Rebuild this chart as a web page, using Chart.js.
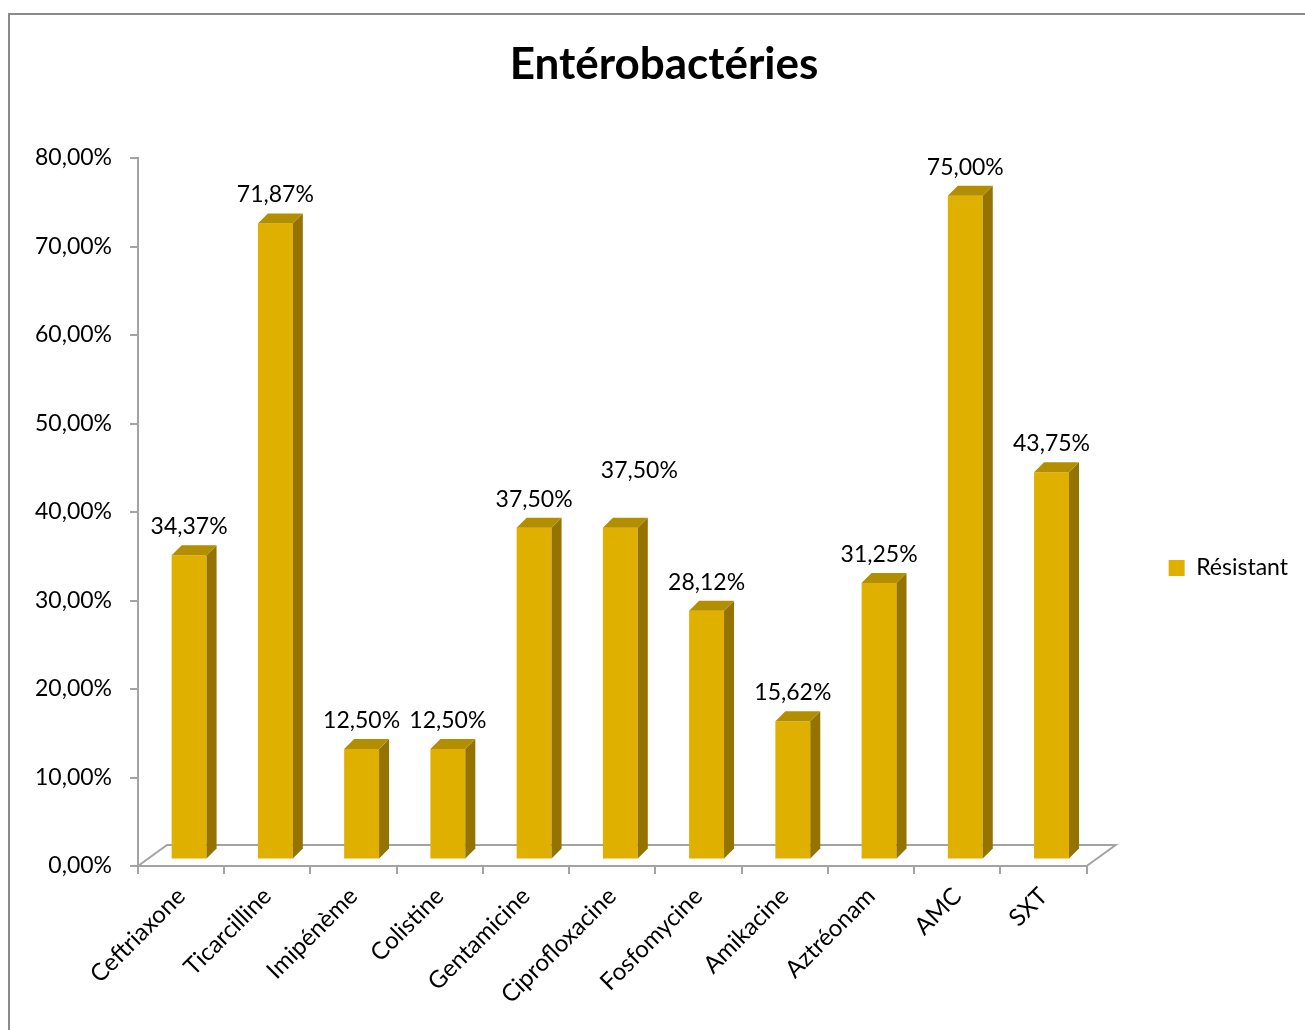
<!DOCTYPE html>
<html>
<head>
<meta charset="utf-8">
<script src="https://cdn.jsdelivr.net/npm/chart.js@4.4.1/dist/chart.umd.min.js"></script>
<style>
  html, body { margin: 0; padding: 0; background: #fff; }
  #wrap { width: 1305px; height: 1030px; }
</style>
</head>
<body>
<div id="wrap"><canvas id="chart" width="1305" height="1030"></canvas></div>
<script>
// donnees
const categories = ["Ceftriaxone", "Ticarcilline", "Imipénème", "Colistine", "Gentamicine",
  "Ciprofloxacine", "Fosfomycine", "Amikacine", "Aztréonam", "AMC", "SXT"];
const resistant = [34.37, 71.87, 12.50, 12.50, 37.50, 37.50, 28.12, 15.62, 31.25, 75.00, 43.75];
const yTicks = [0, 10, 20, 30, 40, 50, 60, 70, 80];

const FONT = "Lato, 'Open Sans', sans-serif";
const FRONT = "#DFB000";
const SIDE = "#957300";
const TOP = "#B28E00";
const GREY = "#A3A3A3";

// faux 3D a la Excel
const SHIFT_X = 8, SHIFT_Y = -6.5, DEPTH = 10;
const FLOOR_DX = 29, FLOOR_DY = -21;
const labelNudge = { 5: [19, -29] }; // Excel a decale l'etiquette de Ciprofloxacine

const fmt = v => Number(v).toFixed(2).replace(".", ",") + "%";

const fake3d = {
  id: "fake3d",
  beforeDraw(chart) {
    const ctx = chart.ctx;
    ctx.save();
    ctx.strokeStyle = "#8A8A8A";
    ctx.lineWidth = 2;
    ctx.strokeRect(9, 14, 1400, 1100);
    ctx.restore();
  },
  beforeDatasetsDraw(chart) {
    const { ctx, chartArea: a } = chart;
    ctx.save();
    ctx.strokeStyle = GREY;
    ctx.lineWidth = 2;
    ctx.beginPath();
    ctx.moveTo(a.left, a.bottom);
    ctx.lineTo(a.left + FLOOR_DX, a.bottom + FLOOR_DY);
    ctx.lineTo(a.right + FLOOR_DX, a.bottom + FLOOR_DY);
    ctx.lineTo(a.right, a.bottom);
    ctx.stroke();
    ctx.restore();
    ctx.save();
    ctx.translate(SHIFT_X, SHIFT_Y);
  },
  afterDatasetsDraw(chart) {
    const ctx = chart.ctx;
    const bars = chart.getDatasetMeta(0).data;
    bars.forEach(bar => {
      const { x, y, base, width } = bar.getProps(["x", "y", "base", "width"], true);
      const l = x - width / 2, r = x + width / 2;
      ctx.fillStyle = SIDE;
      ctx.beginPath();
      ctx.moveTo(r, y);
      ctx.lineTo(r + DEPTH, y - DEPTH);
      ctx.lineTo(r + DEPTH, base - DEPTH);
      ctx.lineTo(r, base);
      ctx.closePath();
      ctx.fill();
      ctx.fillStyle = TOP;
      ctx.beginPath();
      ctx.moveTo(l, y);
      ctx.lineTo(l + DEPTH, y - DEPTH);
      ctx.lineTo(r + DEPTH, y - DEPTH);
      ctx.lineTo(r, y);
      ctx.closePath();
      ctx.fill();
    });
    ctx.restore();

    // etiquettes de valeurs
    ctx.save();
    ctx.fillStyle = "#000";
    ctx.font = "23px " + FONT;
    ctx.textAlign = "center";
    ctx.textBaseline = "alphabetic";
    bars.forEach((bar, i) => {
      const { x, y } = bar.getProps(["x", "y"], true);
      const [nx, ny] = labelNudge[i] || [0, 0];
      ctx.fillText(fmt(resistant[i]), x + SHIFT_X + nx, y + SHIFT_Y - 21 + ny);
    });
    ctx.restore();
  }
};

new Chart(document.getElementById("chart"), {
  type: "bar",
  data: {
    labels: categories,
    datasets: [{
      label: "Résistant",
      data: resistant,
      backgroundColor: FRONT,
      borderWidth: 0,
      barPercentage: 0.405,
      categoryPercentage: 1,
      clip: false
    }]
  },
  options: {
    responsive: false,
    animation: false,
    devicePixelRatio: 1,
    layout: { padding: { left: 30, right: 7, top: 0, bottom: 0 } },
    plugins: {
      title: {
        display: true,
        text: "Entérobactéries",
        color: "#000",
        font: { family: FONT, size: 44, weight: "bold" },
        padding: { top: 38, bottom: 67.2 }
      },
      legend: {
        position: "right",
        fullSize: false,
        align: "center",
        title: { display: true, text: "", font: { size: 10 }, padding: 50 },
        labels: {
          boxWidth: 16,
          boxHeight: 16,
          padding: 12,
          color: "#000",
          font: { family: FONT, size: 23 }
        }
      },
      tooltip: { enabled: false }
    },
    scales: {
      x: {
        grid: { offset: true, drawOnChartArea: false, color: GREY, lineWidth: 2, tickLength: 8 },
        border: { color: GREY, width: 2 },
        ticks: { minRotation: 45, maxRotation: 45, autoSkip: false, color: "#000", padding: 8, font: { family: FONT, size: 24 } },
        afterFit: s => { s.height = 164; }
      },
      y: {
        min: 0,
        max: 80,
        grid: { drawOnChartArea: false, color: GREY, lineWidth: 2, tickLength: 8 },
        border: { color: GREY, width: 2 },
        ticks: { color: "#000", padding: 18, font: { family: FONT, size: 23 }, callback: v => fmt(v) },
        afterBuildTicks: s => { s.ticks = yTicks.map(v => ({ value: v })); },
        afterFit: s => { s.width = 108; }
      },
      // axe vide : reserve l'espace entre le sol 3D et la legende
      yGap: {
        position: "right",
        grid: { display: false },
        border: { display: false },
        ticks: { display: false },
        afterFit: s => { s.width = 70; }
      }
    }
  },
  plugins: [fake3d]
});
</script>
</body>
</html>
